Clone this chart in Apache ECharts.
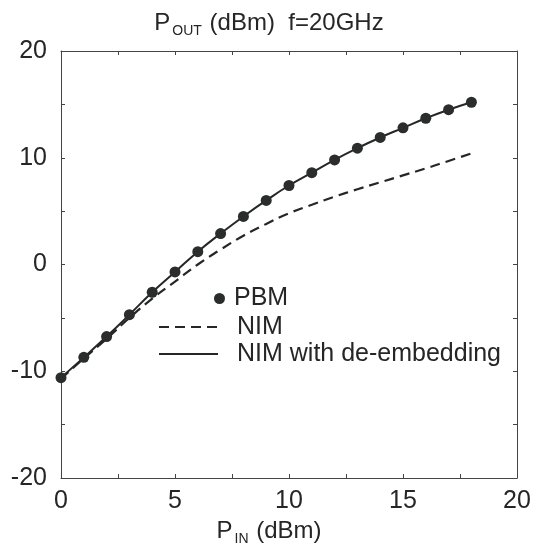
<!DOCTYPE html>
<html>
<head>
<meta charset="utf-8">
<script src="https://cdn.jsdelivr.net/npm/echarts@6/dist/echarts.min.js"></script>
<style>
  html, body { margin: 0; padding: 0; background: #fff; }
  #chart-container { width: 538px; height: 549px; }
</style>
</head>
<body>
<div id="chart-container"></div>
<script>
var pinValues = [0, 1, 2, 3, 4, 5, 6, 7, 8, 9, 10, 11, 12, 13, 14, 15, 16, 17, 18];
var pbmValues = [-10.6, -8.7, -6.75, -4.7, -2.6, -0.7, 1.2, 2.9, 4.5, 6.0, 7.4, 8.6, 9.8, 10.9, 11.9, 12.8, 13.7, 14.5, 15.2];
var nimValues = [-10.7, -8.8, -6.95, -5.0, -3.2, -1.6, 0.0, 1.4, 2.7, 3.8, 4.8, 5.6, 6.35, 7.05, 7.7, 8.35, 9.0, 9.7, 10.4];
var nimDeembValues = [-10.6, -8.7, -6.75, -4.7, -2.6, -0.7, 1.2, 2.9, 4.5, 6.0, 7.4, 8.6, 9.8, 10.9, 11.9, 12.8, 13.7, 14.5, 15.2];

var dom = document.getElementById('chart-container');
var myChart = echarts.init(dom, null, { renderer: 'canvas' });

function pairs(ys) {
  return pinValues.map(function (x, i) { return [x, ys[i]]; });
}

var font = 'Liberation Sans';
var ink = '#262626';

var axisCommon = {
  type: 'value',
  axisLine: { show: true, onZero: false, lineStyle: { color: '#444', width: 1 } },
  axisTick: { show: true, inside: true, length: 4, lineStyle: { color: '#444' } },
  splitLine: { show: false }
};

var subRich = {
  a: { fontFamily: font, fontSize: 24, fontWeight: 'normal', color: ink, lineHeight: 30 },
  b: { fontFamily: font, fontSize: 14, fontWeight: 'normal', color: ink, lineHeight: 30, verticalAlign: 'bottom', padding: [10, 1, 0, 2] }
};

var option = {
  backgroundColor: '#fff',
  animation: false,
  title: {
    text: '{a|P}{b|OUT}{a| (dBm)  f=20GHz}',
    left: 'center',
    top: 3,
    textStyle: { fontWeight: 'normal', rich: subRich }
  },
  grid: { left: 61, right: 21, top: 51, bottom: 71, outerBoundsMode: 'none', containLabel: false },
  legend: [
    {
      data: [{ name: 'PBM', icon: 'circle' }],
      left: 209,
      top: 281,
      itemWidth: 11,
      itemHeight: 11,
      itemStyle: { opacity: 1 },
      textStyle: { fontFamily: font, fontSize: 25, color: ink, padding: [0, 0, 0, 4] }
    },
    {
      data: ['NIM', 'NIM with de-embedding'],
      orient: 'vertical',
      left: 153,
      top: 309,
      itemWidth: 59,
      itemHeight: 14,
      itemGap: 1,
      itemStyle: { opacity: 0 },
      textStyle: { fontFamily: font, fontSize: 25, color: ink, lineHeight: 26, padding: [0, 0, 0, 14] }
    }
  ],
  xAxis: [
    Object.assign({}, axisCommon, {
      min: 0, max: 20, interval: 2.5,
      axisLabel: {
        fontFamily: font, fontSize: 25, color: ink, margin: 11,
        formatter: function (v) { return v % 5 === 0 ? v : ''; }
      },
      name: '{a|P}{b|IN}{a| (dBm)}',
      nameLocation: 'middle',
      nameGap: 33,
      nameTextStyle: { padding: [0, 40, 0, 0], rich: subRich }
    }),
    Object.assign({}, axisCommon, {
      position: 'top', min: 0, max: 20, interval: 2.5,
      axisLabel: { show: false }
    })
  ],
  yAxis: [
    Object.assign({}, axisCommon, {
      min: -20, max: 20, interval: 5,
      axisLabel: {
        fontFamily: font, fontSize: 25, color: ink, margin: 14,
        formatter: function (v) { return v % 10 === 0 ? v : ''; }
      }
    }),
    Object.assign({}, axisCommon, {
      position: 'right', min: -20, max: 20, interval: 5,
      axisLabel: { show: false }
    })
  ],
  series: [
    {
      name: 'NIM',
      type: 'line',
      data: pairs(nimValues),
      smooth: true,
      symbol: 'none',
      lineStyle: { color: ink, width: 2.2, type: [10, 6] },
      itemStyle: { color: ink },
      z: 2
    },
    {
      name: 'NIM with de-embedding',
      type: 'line',
      data: pairs(nimDeembValues),
      smooth: true,
      symbol: 'none',
      lineStyle: { color: ink, width: 2 },
      itemStyle: { color: ink },
      z: 3
    },
    {
      name: 'PBM',
      type: 'scatter',
      data: pairs(pbmValues),
      symbol: 'circle',
      symbolSize: 11,
      itemStyle: { color: '#2a2d2c', opacity: 1 },
      z: 4
    }
  ]
};

myChart.setOption(option);
window.addEventListener('resize', myChart.resize);
</script>
</body>
</html>
